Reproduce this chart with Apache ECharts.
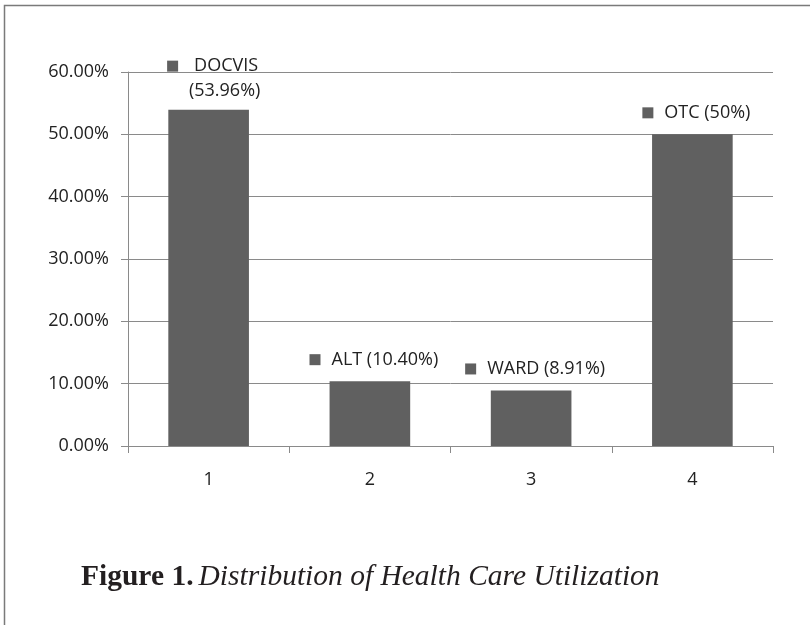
<!DOCTYPE html>
<html>
<head>
<meta charset="utf-8">
<script src="https://cdn.jsdelivr.net/npm/echarts@6/dist/echarts.min.js"></script>
<style>
  html, body { margin: 0; padding: 0; background: #fff; }
  #chart { width: 810px; height: 625px; }
</style>
</head>
<body>
<div id="chart"></div>
<script>
// Categories along the x axis
const categories = ['1', '2', '3', '4'];
// Utilization measures and their shares (percent)
const measures = ['DOCVIS', 'ALT', 'WARD', 'OTC'];
const shares = [53.96, 10.40, 8.91, 50];
// Whether the value part of the label goes on its own line
const splitLabel = [true, false, false, false];
// Y axis range and step (percent)
const yMin = 0, yMax = 60, yStep = 10;

const fmtShare = v => (Number.isInteger(v) ? String(v) : v.toFixed(2)) + '%';

const chart = echarts.init(document.getElementById('chart'), null, { renderer: 'canvas' });

const labelFont = 'Open Sans';
const gridColor = '#8a8a8a';
const barColor = '#606060';
const textColor = '#222';

chart.setOption({
  animation: false,
  backgroundColor: '#ffffff',
  grid: { left: 128, right: 37, top: 72, bottom: 179 },
  title: {
    left: 76,
    top: 557,
    text: '{b|Figure 1.} {i|Distribution of Health Care Utilization}',
    textStyle: {
      rich: {
        b: { fontFamily: 'Liberation Serif', fontWeight: 'bold', fontSize: 29.5, color: '#231f20' },
        i: { fontFamily: 'Liberation Serif', fontWeight: 'normal', fontStyle: 'italic', fontSize: 29.5, color: '#231f20' }
      }
    }
  },
  xAxis: {
    type: 'category',
    data: categories,
    boundaryGap: true,
    axisLine: { show: true, lineStyle: { color: gridColor, width: 1 } },
    axisTick: { show: true, length: 7, lineStyle: { color: gridColor } },
    axisLabel: { margin: 25, fontFamily: labelFont, fontSize: 18, color: textColor }
  },
  yAxis: {
    type: 'value',
    min: yMin,
    max: yMax,
    interval: yStep,
    axisLine: { show: true, lineStyle: { color: gridColor, width: 1 } },
    axisTick: { show: true, length: 7, lineStyle: { color: gridColor } },
    splitLine: { show: true, lineStyle: { color: gridColor, width: 1 } },
    axisLabel: {
      margin: 19,
      fontFamily: labelFont,
      fontSize: 18,
      color: textColor,
      formatter: v => v.toFixed(2) + '%'
    }
  },
  series: [{
    type: 'bar',
    data: shares,
    barWidth: '50%',
    itemStyle: { color: barColor },
    label: {
      show: true,
      position: 'top',
      distance: 9,
      offset: [4, 0],
      formatter: p => {
        const name = measures[p.dataIndex];
        const val = '(' + fmtShare(p.value) + ')';
        if (splitLabel[p.dataIndex]) {
          return '{m|}{h|' + name + '}\n{p|' + val + '}';
        }
        return '{m|}{t|' + name + ' ' + val + '}';
      },
      rich: {
        m: { width: 11, height: 11, backgroundColor: barColor },
        t: { fontFamily: labelFont, fontSize: 18, color: textColor, padding: [0, 0, 0, 11], lineHeight: 25 },
        h: { fontFamily: labelFont, fontSize: 18, color: textColor, padding: [0, 0, 0, 16], lineHeight: 31 },
        p: { fontFamily: labelFont, fontSize: 18, color: textColor, padding: [0, 0, 0, 24], lineHeight: 19 }
      }
    }
  }],
  graphic: [{
    type: 'polyline',
    silent: true,
    shape: { points: [[4.5, 625], [4.5, 5.5], [810, 5.5]] },
    style: { stroke: '#7a7a7a', lineWidth: 1.5, fill: null }
  }]
});
</script>
</body>
</html>
